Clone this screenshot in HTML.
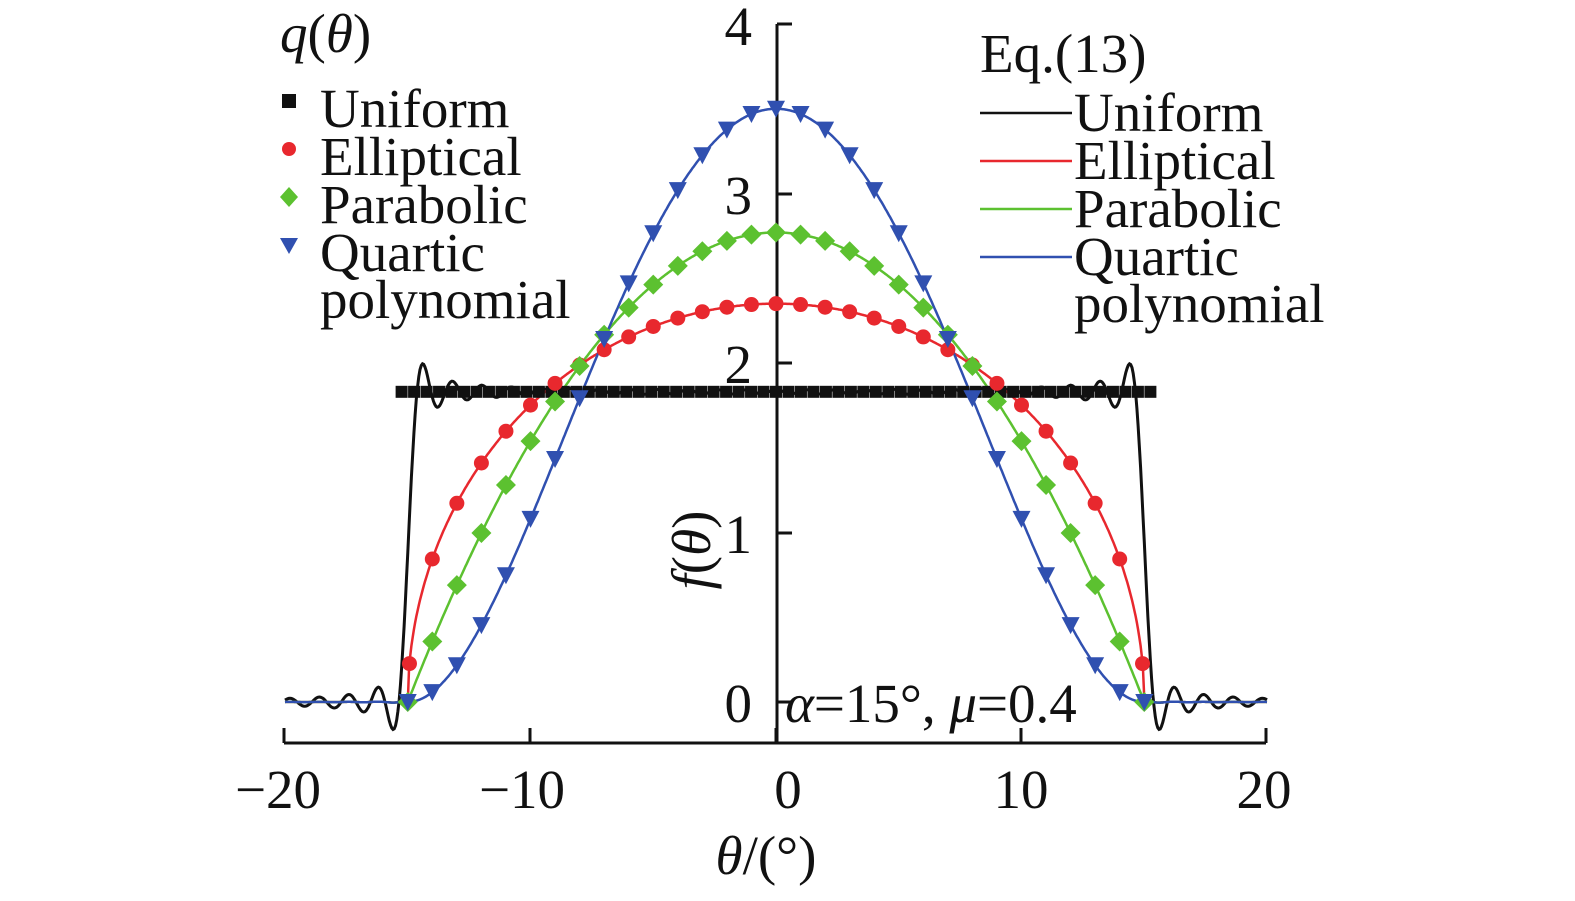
<!DOCTYPE html>
<html><head><meta charset="utf-8"><style>
html,body{margin:0;padding:0;background:#fff;}
svg text{font-family:"Liberation Serif",serif;font-size:55px;fill:#111;}
</style></head><body>
<svg id="s" width="1575" height="896" xmlns="http://www.w3.org/2000/svg">
<g stroke="#111" stroke-width="3" fill="none">
<line x1="284" y1="743" x2="1266" y2="743"/>
<line x1="284" y1="743" x2="284" y2="728"/>
<line x1="530" y1="743" x2="530" y2="728"/>
<line x1="776" y1="743" x2="776" y2="728"/>
<line x1="1021" y1="743" x2="1021" y2="728"/>
<line x1="1266" y1="743" x2="1266" y2="728"/>
<line x1="777" y1="24" x2="777" y2="743"/>
<line x1="777" y1="24" x2="792" y2="24"/>
<line x1="777" y1="194" x2="792" y2="194"/>
<line x1="777" y1="363" x2="792" y2="363"/>
<line x1="777" y1="533" x2="792" y2="533"/>
<line x1="777" y1="702" x2="792" y2="702"/>
</g>
<g id="plot"></g>
<g text-anchor="end">
<text x="752" y="45">4</text><text x="752" y="214">3</text><text x="752" y="383">2</text><text x="752" y="553">1</text><text x="752" y="722">0</text>
</g>
<g text-anchor="middle">
<text x="278" y="808">−20</text><text x="522" y="808">−10</text><text x="788" y="808">0</text><text x="1021" y="808">10</text><text x="1264" y="808">20</text>
<text x="766" y="874"><tspan font-style="italic">θ</tspan>/(°)</text>
</g>
<text transform="translate(710,550) rotate(-90)" text-anchor="middle"><tspan font-style="italic">f</tspan>(<tspan font-style="italic">θ</tspan>)</text>
<text x="785" y="722"><tspan font-style="italic">α</tspan>=15°, <tspan font-style="italic">μ</tspan>=0.4</text>
<text x="280" y="52"><tspan font-style="italic">q</tspan>(<tspan font-style="italic">θ</tspan>)</text>
<text x="320" y="127">Uniform</text><text x="320" y="175">Elliptical</text><text x="320" y="223">Parabolic</text><text x="320" y="271">Quartic</text><text x="320" y="318">polynomial</text>
<rect x="282" y="94" width="14" height="14" fill="#111"/>
<circle cx="289" cy="149" r="7" fill="#e8282e"/>
<polygon points="289,187 298,197 289,207 280,197" fill="#5cc130"/>
<polygon points="280,238 298,238 289,254" fill="#3050b0"/>
<text x="980" y="72">Eq.(13)</text>
<text x="1074" y="131">Uniform</text><text x="1074" y="179">Elliptical</text><text x="1074" y="227">Parabolic</text><text x="1074" y="275">Quartic</text><text x="1074" y="322">polynomial</text>
<g stroke-width="2.5">
<line x1="980" y1="113" x2="1072" y2="113" stroke="#111"/>
<line x1="980" y1="161" x2="1072" y2="161" stroke="#e8282e"/>
<line x1="980" y1="209" x2="1072" y2="209" stroke="#5cc130"/>
<line x1="980" y1="257" x2="1072" y2="257" stroke="#3050b0"/>
</g>
</svg>
<script>
(function(){
var X=function(t){return 776+t*24.55;},Y=function(v){return 702-v*169.5;};
var fs=[
 [function(t){return Math.abs(t)<=15?1.83:0;},"#111","sq"],
 [function(t){return Math.abs(t)<=15?2.35*Math.sqrt(1-t*t/225):0;},"#e8282e","ci"],
 [function(t){return Math.abs(t)<=15?2.77*(1-t*t/225):0;},"#5cc130","di"],
 [function(t){var u=1-t*t/225;return Math.abs(t)<=15?3.5*u*u:0;},"#3050b0","tr"]];
var K=5.2,g=document.getElementById("plot"),h="";
function conv(f,x){var s=0,dt=0.02;for(var t=-16;t<=16;t+=dt){var d=x-t;var k=Math.abs(d)<1e-9?K/Math.PI:Math.sin(K*d)/(Math.PI*d);s+=f(t)*k*dt;}return s;}
var mk="";
fs.forEach(function(o,i){
 var f=o[0],c=o[1];
 if(o[2]=="sq"){for(var j=0;j<=60;j++){var t=-15.25+j*30.5/60;mk+='<rect x="'+(X(t)-6)+'" y="'+(Y(1.83)-6)+'" width="12" height="12" fill="#111"/>';}}
 else{var ts=[];for(var t=-15;t<=15;t+=1)ts.push(t);
  if(o[2]=="ci"){ts.shift();ts.pop();ts.unshift(-14.93);ts.push(14.93);}
  ts.forEach(function(t){var x=X(t),y=Y(f(t));
  if(o[2]=="ci")mk+='<circle cx="'+x+'" cy="'+y+'" r="7.5" fill="'+c+'"/>';
  else if(o[2]=="di")mk+='<polygon points="'+x+','+(y-10)+' '+(x+10)+','+y+' '+x+','+(y+10)+' '+(x-10)+','+y+'" fill="'+c+'"/>';
  else mk+='<polygon points="'+(x-9)+','+(y-8)+' '+(x+9)+','+(y-8)+' '+x+','+(y+9)+'" fill="'+c+'"/>';});}
});
fs.forEach(function(o,i){
 var f=o[0],c=o[1],p="";
 for(var x=-20;x<=20.001;x+=0.05){var v=i==0?conv(f,x):(Math.abs(x)<=15?f(x):0.04*conv(function(t){return Math.abs(t)<=15?1:0;},x)-0.04*(Math.abs(x)<=15?1:0));p+=(p?"L":"M")+X(x).toFixed(1)+","+Y(v).toFixed(1);}
 h+='<path d="'+p+'" fill="none" stroke="'+c+'" stroke-width="'+(i==0?3:2.5)+'"/>';
});
g.innerHTML=h+mk;
})();
</script>
</body></html>
